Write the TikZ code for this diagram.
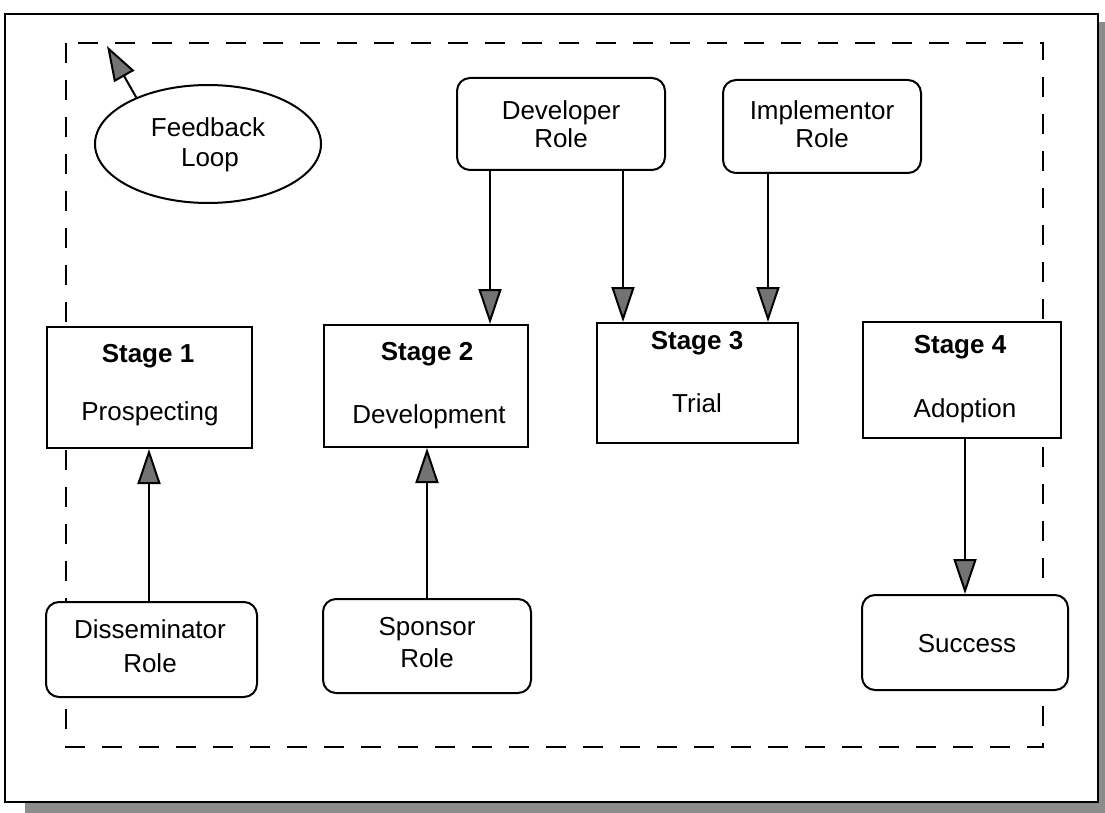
\documentclass[tikz,border=0pt]{standalone}
\usepackage{fontspec}
\setmainfont{Liberation Sans}
\usetikzlibrary{arrows.meta,shapes.geometric}
\tikzset{
  lbl/.style={font=\fontsize{26}{30}\selectfont, inner sep=0pt, anchor=base},
  hd/.style={lbl, font=\fontsize{26}{30}\selectfont\bfseries},
  stagebox/.style={draw, fill=white, line width=2pt, inner sep=0pt},
  rolebox/.style={draw, fill=white, line width=2pt, rounded corners=13pt, inner sep=0pt},
  conn/.style={line width=2pt, -{Triangle[length=35pt,width=23pt,fill=black!55]}},
}
\begin{document}
\begin{tikzpicture}[x=1pt,y=-1pt]
\useasboundingbox (0,0) rectangle (1105,813);
% shadow
\fill[black!45] (25,802) rectangle (1105,813);
\fill[black!45] (1098,22) rectangle (1105,813);
% outer frame
\draw[line width=2.2pt] (5,14) rectangle (1098,802);
% dashed boundary
\draw[line width=2.5pt, dash pattern=on 20pt off 17pt] (66,43) rectangle (1043,747);
\coordinate (fbtip) at (107,46);

% feedback loop
\node[draw, fill=white, ellipse, line width=2pt, minimum width=226pt, minimum height=118pt] (fb) at (208,144) {};
\node[lbl] (fbt1) at (208,137) {Feedback};
\node[lbl] (fbt2) at (210,167) {Loop};

% top roles
\node[rolebox, minimum width=208pt, minimum height=92pt] (dev) at (561,124) {};
\node[lbl] (devt1) at (561,120) {Developer};
\node[lbl] (devt2) at (561,148) {Role};

\node[rolebox, minimum width=198pt, minimum height=93pt] (imp) at (822,126.5) {};
\node[lbl] (impt1) at (822,120) {Implementor};
\node[lbl] (impt2) at (822,148) {Role};

% stages
\node[stagebox, minimum width=205pt, minimum height=121pt] (s1) at (149.5,387.5) {};
\node[hd] (s1t1) at (148,362) {Stage 1};
\node[lbl] (s1t2) at (150,420) {Prospecting};

\node[stagebox, minimum width=204pt, minimum height=122pt] (s2) at (426,386) {};
\node[hd] (s2t1) at (427,360) {Stage 2};
\node[lbl] (s2t2) at (429,423) {Development};

\node[stagebox, minimum width=201pt, minimum height=120pt] (s3) at (697.5,383) {};
\node[hd] (s3t1) at (697,349) {Stage 3};
\node[lbl] (s3t2) at (697,412) {Trial};

\node[stagebox, minimum width=198pt, minimum height=116pt] (s4) at (962,380) {};
\node[hd] (s4t1) at (960,353) {Stage 4};
\node[lbl] (s4t2) at (965,417) {Adoption};

% bottom roles
\node[rolebox, minimum width=211pt, minimum height=95pt] (dis) at (151.5,649.5) {};
\node[lbl] (dist1) at (150,638) {Disseminator};
\node[lbl] (dist2) at (150,672) {Role};

\node[rolebox, minimum width=208pt, minimum height=94pt] (spo) at (427,646) {};
\node[lbl] (spot1) at (427,635) {Sponsor};
\node[lbl] (spot2) at (427,667) {Role};

\node[rolebox, minimum width=206pt, minimum height=95pt] (suc) at (965,642.5) {};
\node[lbl] (suct) at (967,652) {Success};

% connectors
\draw[conn] (fb.147) -- (fbtip);
\draw[conn] (dev.south -| 490,0) -- (s2.north -| 490,0);
\draw[conn] (dev.south -| 623,0) -- (s3.north -| 623,0);
\draw[conn] (imp.south -| 768,0) -- (s3.north -| 768,0);
\draw[conn] (dis.north -| 149,0) -- (s1.south -| 149,0);
\draw[conn] (spo.north -| 427,0) -- (s2.south -| 427,0);
\draw[conn] (s4.south -| 965,0) -- (suc.north -| 965,0);
\end{tikzpicture}
\end{document}
